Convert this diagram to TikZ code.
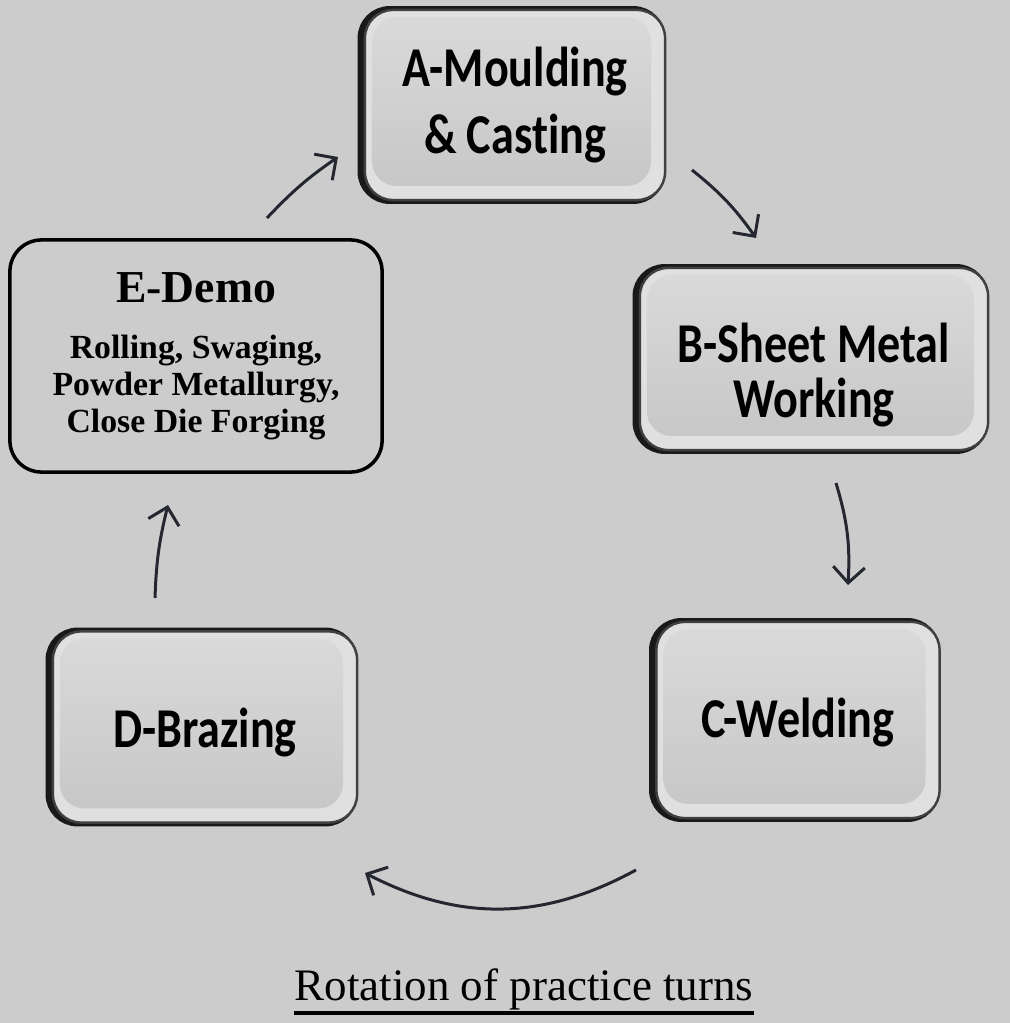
\documentclass[tikz,border=0pt]{standalone}
\usepackage{fontspec}
\usetikzlibrary{arrows.meta}
\newfontfamily\tilefont[FakeStretch=0.82,Ligatures=NoCommon]{Carlito}
\newfontfamily\demofont{Liberation Serif}
\definecolor{paper}{RGB}{204,204,204}
\definecolor{tiletop}{RGB}{218,218,218}
\definecolor{tilebot}{RGB}{198,198,198}
\definecolor{tilerim}{RGB}{224,224,224}
\definecolor{ink}{RGB}{36,38,48}
\tikzset{
  tile/.style={rounded corners=8pt, draw=black!75, line width=0.7pt, fill=tilerim,
    preaction={draw=black!90, line width=2.2pt, transform canvas={xshift=-1pt}},
    path picture={\shade[top color=tiletop, bottom color=tilebot, rounded corners=7pt]
      ([shift={(2pt,-2pt)}]path picture bounding box.north west) rectangle
      ([shift={(-4pt,4pt)}]path picture bounding box.south east);},
    align=center, font=\tilefont\bfseries\fontsize{16}{19}\selectfont},
  demobox/.style={rounded corners=9pt, draw=black, line width=1pt,
    minimum width=3.72cm, minimum height=2.32cm, align=center,
    font=\demofont\bfseries\fontsize{9.6}{10.5}\selectfont},
  flow/.style={draw=ink, line width=0.85pt, -{Straight Barb[length=4.5pt,width=9pt]}}
}

\begin{document}
\begin{tikzpicture}[x=0.01cm,y=0.01cm]
  \useasboundingbox (0,0) rectangle (1010,1023);
  \fill[paper] (0,0) rectangle (1010,1023);
  % the five stations
  \node[tile, minimum width=3.00cm, minimum height=1.90cm] (A) at (515,918) {A-Moulding\\\& Casting};
  \node[tile, minimum width=3.48cm, minimum height=1.82cm, text height=33pt, text depth=0pt,
        font=\tilefont\bfseries\fontsize{16}{15.4}\selectfont] (B) at (814,664) {B-Sheet Metal\\Working};
  \node[tile, minimum width=2.83cm, minimum height=1.96cm, text height=10pt, text depth=0pt] (C) at (798,303) {C-Welding};
  \node[tile, minimum width=3.04cm, minimum height=1.91cm, text height=11.4pt, text depth=0pt] (D) at (205,296) {D-Brazing};
  \node[demobox] (E) at (196,667) {{\fontsize{13}{15}\selectfont E-Demo}\\[5.5pt]
        Rolling, Swaging,\\Powder Metallurgy,\\Close Die Forging};
  % arrow ends
  \coordinate (Eout) at (267,805);  \coordinate (Ain) at (338,866);
  \coordinate (Aout) at (692,853);  \coordinate (Bin) at (756,785);
  \coordinate (Bout) at (836,540);  \coordinate (Cin) at (848,438);
  \coordinate (Cout) at (636,153);  \coordinate (Din) at (365,150);
  \coordinate (Dout) at (155,425);  \coordinate (Ein) at (168,518);
  \draw[flow] (Eout) to[bend left=6] (Ain);
  \draw[flow] (Aout) to[bend left=8] (Bin);
  \draw[flow] (Bout) to[bend left=10] (Cin);
  \draw[flow] (Cout) to[bend left=28] (Din);
  \draw[flow] (Dout) to[bend left=6] (Ein);
  % caption
  \node[font=\demofont\fontsize{12.8}{15}\selectfont, inner sep=0pt, anchor=base] (title) at (524,22)
        {Rotation of practice turns};
  \draw[line width=0.9pt] ([yshift=-3.4pt]title.base west) -- ([yshift=-3.4pt]title.base east);
\end{tikzpicture}
\end{document}
